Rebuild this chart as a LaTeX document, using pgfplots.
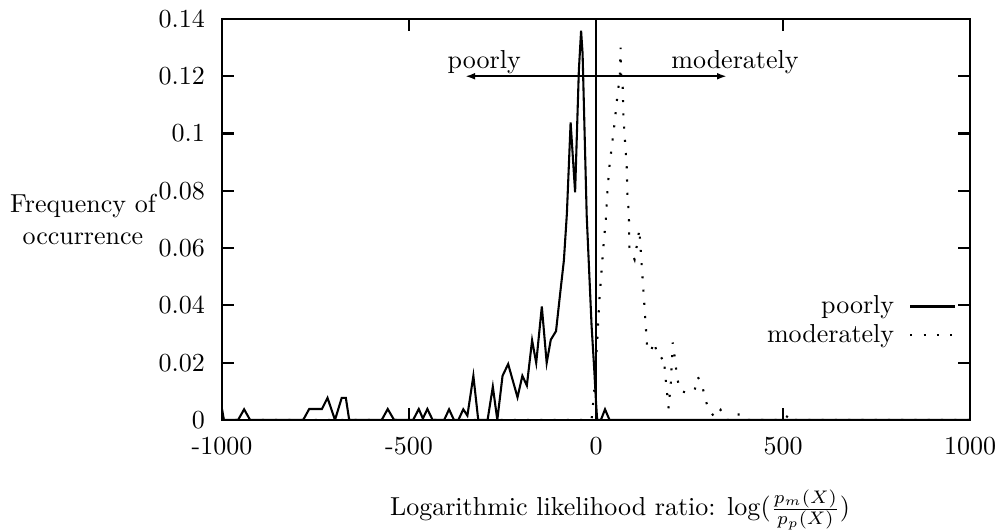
\documentclass[border=0pt]{standalone}
\usepackage{pgfplots}
\pgfplotsset{compat=1.18}
\usetikzlibrary{arrows.meta}

% histogram of the log likelihood ratio, one polyline per class
\pgfplotstableread{
x y
-1000 0.0038
-995 0
-957 0
-941 0.0037
-925 0
-783 0
-767 0.0038
-733 0.0038
-718 0.0077
-698 0
-680 0.0077
-669 0.0077
-660 0
-573 0
-557 0.0038
-540 0
-489 0
-474 0.0038
-463 0.0005
-451 0.0038
-437 0
-406 0
-393 0.0037
-380 0
-368 0
-355 0.0037
-344 0.0015
-328 0.0154
-315 0
-290 0
-276 0.0116
-264 0
-250 0.0154
-235 0.0195
-210 0.0079
-197 0.0154
-185 0.0120
-171 0.0278
-160 0.0199
-145 0.0396
-132 0.0199
-121 0.0280
-107 0.0310
-96 0.0441
-86 0.0557
-78 0.0720
-68 0.1039
-56 0.0795
-46 0.1220
-40 0.1359
-36 0.1280
-25 0.0714
-12 0.0330
-5 0.0180
0 0.0060
3 0
13 0
24 0.0037
36 0
1000 0
}\poorly

\pgfplotstableread{
x y
-1000 0
-12 0
-5 0.0098
3.5 0.0281
8.8 0.0418
14.2 0.0511
19.5 0.0604
26 0.0697
30 0.0790
35.6 0.0883
43.6 0.0972
48 0.1018
55.3 0.1111
59.6 0.1158
64 0.1208
65.5 0.1300
67 0.1208
71.4 0.1159
73 0.1066
75 0.1020
77.5 0.0972
82 0.0883
83.7 0.0790
86.4 0.0743
88 0.0697
89 0.0604
103 0.0560
116 0.0666
118 0.0620
137 0.0247
147 0.0240
155 0.0273
164 0.0228
173 0.0213
181 0.0220
187 0.0130
194 0.0041
200 0.0131
205 0.0270
209 0.0234
217 0.0145
225 0.0102
241 0.0095
263 0.0101
272 0.0150
283 0.0125
291 0.0079
300 0.0038
318 0.0008
333 0.0035
348 0
360 0
372 0.0019
385 0.0019
395 0
505 0
514 0.0019
524 0
1000 0
}\moderately

\begin{document}
\begin{tikzpicture}
\begin{axis}[
  name=ax,
  scale only axis,
  width=287.7pt, height=154.2pt,
  xmin=-1000, xmax=1000, ymin=0, ymax=0.14,
  axis line style={line width=0.8pt},
  tick style={line width=0.8pt, black},
  tick align=inside,
  major tick length=4.6pt,
  xtick={-1000,-500,0,500,1000},
  xticklabels={-1000,-500,0,500,1000},
  ytick={0,0.02,0.04,0.06,0.08,0.1,0.12,0.14},
  yticklabels={0,0.02,0.04,0.06,0.08,0.1,0.12,0.14},
  xticklabel style={yshift=-3pt},
  yticklabel style={xshift=-3.1pt},
  xlabel={Logarithmic likelihood ratio: $\log(\frac{p_m(X)}{p_p(X)})$},
  every axis x label/.style={at={(axis description cs:0.532,-0.224)}, anchor=center},
  ylabel={Frequency of\\occurrence},
  every axis y label/.style={at={(axis description cs:-0.186,0.5)}, anchor=center, align=center},
  legend plot pos=right,
  legend cell align=right,
  legend style={draw=none, fill=none, at={(rel axis cs:0.992,0.247)}, anchor=east,
    row sep=-1.4pt, column sep=3.8pt},
]
\addplot[black, line width=0.8pt] table[x=x, y=y] {\poorly};
\addlegendentry{poorly}
\addplot[black, line width=0.8pt, dash pattern=on 0.8pt off 4.3pt] table[x=x, y=y] {\moderately};
\addlegendentry{moderately}

\draw[line width=0.8pt] (axis cs:0,0) -- (axis cs:0,0.14);
\draw[line width=0.8pt, -{Latex[length=3.8pt,width=2.6pt]}] (axis cs:0,0.12) -- (axis cs:-350,0.12);
\draw[line width=0.8pt, -{Latex[length=3.8pt,width=2.6pt]}] (axis cs:0,0.12) -- (axis cs:350,0.12);
\node[anchor=east, inner sep=0pt] at (axis cs:-200,0.125) {poorly};
\node[anchor=west, inner sep=0pt] at (axis cs:200,0.125) {moderately};
\end{axis}
\pgfresetboundingbox
\path[use as bounding box] ([xshift=-85.4pt,yshift=-42.7pt]ax.south west) rectangle ([xshift=11.9pt,yshift=7.3pt]ax.north east);
\end{tikzpicture}
\end{document}
